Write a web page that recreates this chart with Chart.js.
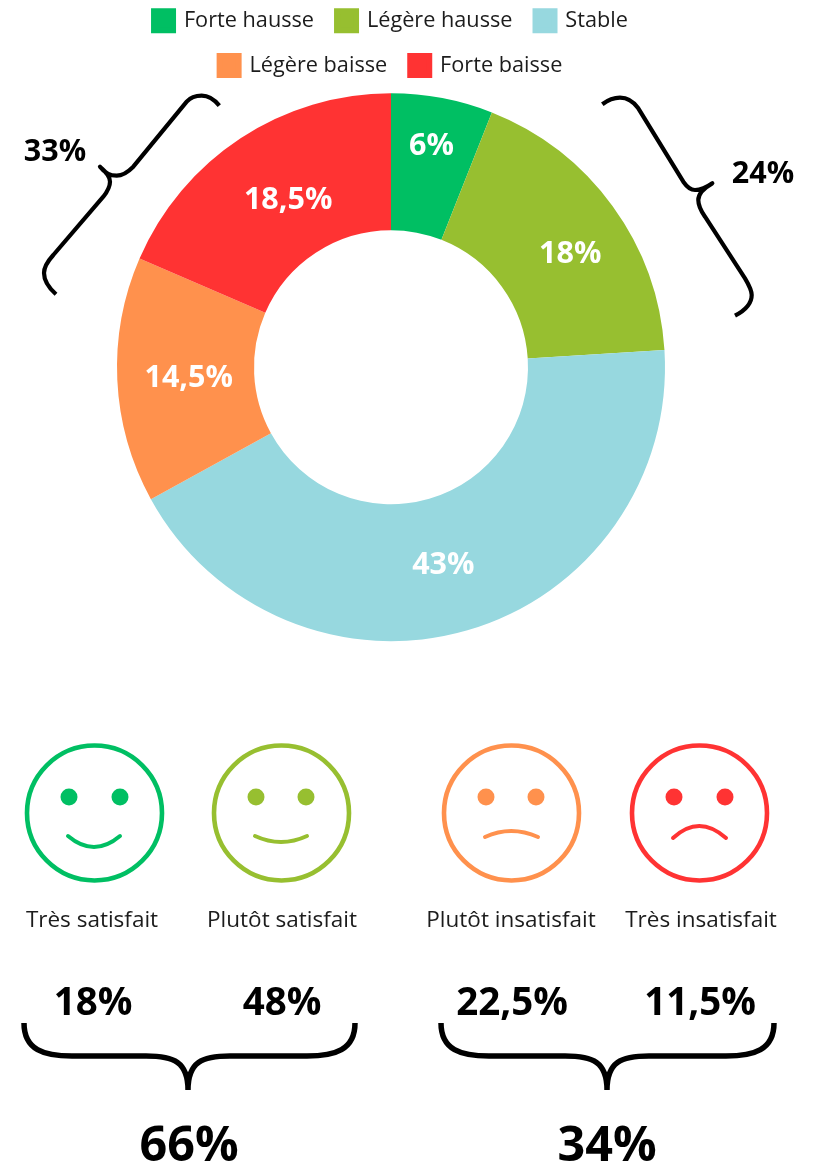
<!DOCTYPE html>
<html lang="fr">
<head>
<meta charset="utf-8">
<title>Évolution et satisfaction</title>
<style>
html,body{margin:0;padding:0;background:#fff}
#wrap{position:relative;width:818px;height:1162px;overflow:hidden}
canvas{display:block}
</style>
<script src="https://cdn.jsdelivr.net/npm/chart.js@4/dist/chart.umd.js"></script>
</head>
<body>
<div id="wrap"><canvas id="c" width="818" height="1162"></canvas></div>
<script>
const trendCategories = ["Forte hausse", "Légère hausse", "Stable", "Légère baisse", "Forte baisse"];
const trendValues = [6, 18, 43, 14.5, 18.5];
const trendLabels = ["6%", "18%", "43%", "14,5%", "18,5%"];
const trendColors = ["#00BF63", "#97BF30", "#97D8DF", "#FF914D", "#FF3333"];
const satisfactionCategories = ["Très satisfait", "Plutôt satisfait", "Plutôt insatisfait", "Très insatisfait"];
const satisfactionLabels = ["18%", "48%", "22,5%", "11,5%"];
const satisfactionColors = ["#00BF63", "#97BF30", "#FF914D", "#FF3333"];
const groupLabels = ["66%", "34%"];
const trendGroupLabels = ["33%", "24%"];

const FONT = '"Open Sans", sans-serif';
const INK = "#1c1c1c";

/* label nudges relative to each arc's centre, as in the source image */
const labelNudge = [[2, -19], [13, 8], [-5, 1], [3, 1], [10, 5]];

const faces = [
  {x: 94.5,  eyeL: 69,  eyeR: 120, mouth: [68, 836, 94, 858, 120, 836]},
  {x: 281.5, eyeL: 256, eyeR: 306, mouth: [255, 836, 281, 848, 307, 836]},
  {x: 511.5, eyeL: 486, eyeR: 536, mouth: [485, 837, 511, 825, 538, 837]},
  {x: 699.5, eyeL: 674, eyeR: 725, mouth: [673, 838, 699, 814, 726, 838]}
];
const labelCentres = [92, 282, 511, 701];
const valueCentres = [93, 282, 512, 700];
const groupCentres = [189, 607];
const bottomBraces = [{l: 24, c: 188, r: 355}, {l: 441, c: 607, r: 774}];

function text(ctx, str, x, y, font, color) {
  ctx.font = font;
  ctx.fillStyle = color;
  ctx.textAlign = "center";
  ctx.textBaseline = "middle";
  ctx.fillText(str, x, y);
}

function bottomBrace(ctx, b) {
  const top = 1023, mid = 1056, tip = 1090;
  ctx.beginPath();
  ctx.moveTo(b.l, top);
  ctx.bezierCurveTo(b.l, mid - 6, b.l + 20, mid, b.l + 48, mid);
  ctx.lineTo(b.c - 42, mid);
  ctx.bezierCurveTo(b.c - 14, mid, b.c, mid + 6, b.c, tip);
  ctx.moveTo(b.r, top);
  ctx.bezierCurveTo(b.r, mid - 6, b.r - 20, mid, b.r - 48, mid);
  ctx.lineTo(b.c + 42, mid);
  ctx.bezierCurveTo(b.c + 14, mid, b.c, mid + 6, b.c, tip);
  ctx.stroke();
}

function sideBraces(ctx) {
  ctx.beginPath();
  ctx.moveTo(219.3, 105.7);
  ctx.bezierCurveTo(213, 98, 207, 95.7, 201.7, 95.7);
  ctx.bezierCurveTo(195, 95.7, 190, 98, 186.7, 101.7);
  ctx.lineTo(133.3, 166.7);
  ctx.bezierCurveTo(127, 173, 122, 175.7, 116.7, 175.7);
  ctx.bezierCurveTo(110, 175.7, 104, 172, 100, 166.7);
  ctx.bezierCurveTo(106, 172, 110, 176, 110, 181.7);
  ctx.bezierCurveTo(110, 187, 107, 192, 103.3, 196.7);
  ctx.lineTo(53.3, 255);
  ctx.bezierCurveTo(47, 262, 44, 267, 44, 273);
  ctx.bezierCurveTo(44, 281, 49, 288, 56, 294.3);
  ctx.stroke();

  ctx.beginPath();
  ctx.moveTo(602.3, 104.3);
  ctx.bezierCurveTo(608, 100, 614, 97.7, 620, 97.7);
  ctx.bezierCurveTo(627, 97.7, 633, 101, 638.3, 108.3);
  ctx.lineTo(683.3, 181.7);
  ctx.bezierCurveTo(687, 187, 691, 190, 695, 190);
  ctx.bezierCurveTo(702, 190, 707, 187, 712.3, 183.3);
  ctx.bezierCurveTo(704, 188, 698.3, 193, 698.3, 200);
  ctx.bezierCurveTo(698.3, 206, 701, 211, 705, 216.7);
  ctx.lineTo(745, 278.3);
  ctx.bezierCurveTo(749, 285, 751.7, 290, 751.7, 295);
  ctx.bezierCurveTo(751.7, 304, 744, 311, 735, 315.7);
  ctx.stroke();
}

const annotations = {
  id: "annotations",
  afterDatasetsDraw(chart) {
    const ctx = chart.ctx;
    ctx.save();
    /* slice labels */
    chart.getDatasetMeta(0).data.forEach((arc, i) => {
      const p = arc.getCenterPoint();
      text(ctx, trendLabels[i], p.x + labelNudge[i][0], p.y + labelNudge[i][1], "bold 30.5px " + FONT, "#ffffff");
    });
    /* side braces and totals */
    ctx.strokeStyle = "#000";
    ctx.lineCap = "butt";
    ctx.lineJoin = "round";
    ctx.lineWidth = 4.2;
    sideBraces(ctx);
    text(ctx, trendGroupLabels[0], 55, 152, "bold 30.5px " + FONT, "#000");
    text(ctx, trendGroupLabels[1], 763, 174, "bold 30.5px " + FONT, "#000");
    /* faces */
    faces.forEach((f, i) => {
      const col = satisfactionColors[i];
      ctx.strokeStyle = col;
      ctx.fillStyle = col;
      ctx.lineWidth = 4.6;
      ctx.beginPath();
      ctx.arc(f.x, 813, 67.5, 0, Math.PI * 2);
      ctx.stroke();
      [f.eyeL, f.eyeR].forEach(ex => {
        ctx.beginPath();
        ctx.arc(ex, 797, 8.5, 0, Math.PI * 2);
        ctx.fill();
      });
      ctx.lineWidth = 4;
      ctx.lineCap = "round";
      ctx.beginPath();
      ctx.moveTo(f.mouth[0], f.mouth[1]);
      ctx.quadraticCurveTo(f.mouth[2], f.mouth[3], f.mouth[4], f.mouth[5]);
      ctx.stroke();
      text(ctx, satisfactionCategories[i], labelCentres[i], 921, "22.5px " + FONT, INK);
      text(ctx, satisfactionLabels[i], valueCentres[i], 1004, "bold 38.5px " + FONT, "#000");
    });
    /* bottom braces and totals */
    ctx.strokeStyle = "#000";
    ctx.lineWidth = 5.5;
    ctx.lineCap = "butt";
    bottomBraces.forEach(b => bottomBrace(ctx, b));
    groupLabels.forEach((g, i) => text(ctx, g, groupCentres[i], 1147, "bold 48.5px " + FONT, "#000"));
    ctx.restore();
  }
};

new Chart(document.getElementById("c"), {
  type: "doughnut",
  data: {
    labels: trendCategories,
    datasets: [{
      data: trendValues,
      backgroundColor: trendColors,
      borderWidth: 0,
      clip: false
    }]
  },
  options: {
    responsive: false,
    animation: false,
    events: [],
    radius: 274,
    cutout: "50%",
    rotation: 0,
    layout: {padding: {left: 117, right: 153, top: -13, bottom: 514}},
    plugins: {
      tooltip: {enabled: false},
      legend: {
        display: true,
        position: "top",
        align: "center",
        labels: {
          boxWidth: 19,
          boxHeight: 19,
          padding: 23,
          color: INK,
          font: {family: FONT, size: 21.7},
          generateLabels(chart) {
            const base = Chart.overrides.doughnut.plugins.legend.labels.generateLabels(chart);
            return base.map(item => ({...item, strokeStyle: item.fillStyle, lineWidth: 6}));
          }
        }
      }
    }
  },
  plugins: [annotations]
});
</script>
</body>
</html>
